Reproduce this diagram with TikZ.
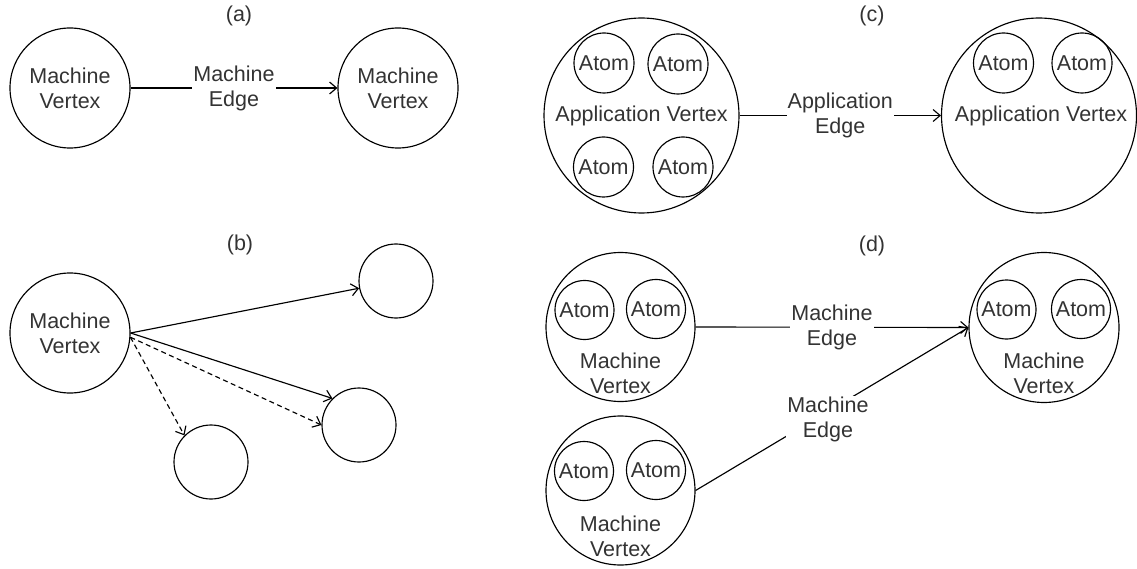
\documentclass[tikz,border=0pt]{standalone}
\usepackage{fontspec}
\setmainfont{Liberation Sans}
\usetikzlibrary{arrows.meta}
\definecolor{txt}{RGB}{51,51,51}
\begin{document}
\begin{tikzpicture}[x=1pt,y=-1pt,
  every node/.style={font=\fontsize{21.5}{25}\selectfont, text=txt, align=center},
  vtx/.style={draw=black, circle, line width=1.15pt, inner sep=0pt, minimum size=#1},
  lbl/.style={fill=white, inner sep=1pt},
  edge/.style={draw=black, line width=1.15pt, -{Straight Barb[length=7pt,width=12pt]}},
  dedge/.style={edge, dash pattern=on 5pt off 3.5pt}
]
\useasboundingbox (0,0) rectangle (1137,569);

% (a)
\node (la) at (239,16) {(a)};
\node[vtx=120] (a1) at (70,88) {Machine\\Vertex};
\node[vtx=120] (a2) at (398,88) {Machine\\Vertex};
\draw[edge] (a1) -- node[lbl] {Machine\\Edge} (a2);

% (b)
\node (lb) at (240,245) {(b)};
\node[vtx=120] (bmv) at (70,333) {Machine\\Vertex};
\node[vtx=74] (b1) at (396,281) {};
\node[vtx=74] (b2) at (359,425) {};
\node[vtx=74] (b3) at (211,462) {};
\draw[edge] (bmv.east) -- (b1);
\draw[edge] (bmv.east) -- (b2.135);
\draw[dedge] (bmv.-4) -- (b2.west);
\draw[dedge] (bmv.-4) -- (b3.135);

% (c)
\node (lc) at (872,16) {(c)};
\node[vtx=195] (c1) at (641.5,115.5) {};
\node[vtx=60] (c1a) at (604,63) {Atom};
\node[vtx=60] (c1b) at (678,64) {Atom};
\node[vtx=60] (c1c) at (603.5,167) {Atom};
\node[vtx=60] (c1d) at (683,167) {Atom};
\node (c1t) at (641.5,116) {Application Vertex};
\node[vtx=195] (c2) at (1039,115.5) {};
\node[vtx=60] (c2a) at (1003.5,63) {Atom};
\node[vtx=60] (c2b) at (1082,63) {Atom};
\node (c2t) at (1041,116) {Application Vertex};
\draw[edge] (c1) -- node[lbl] {Application\\Edge} (c2);

% (d)
\node (ld) at (872,246) {(d)};
\node[vtx=149] (d1) at (620.5,327) {};
\node[vtx=59] (d1a) at (584.5,310) {Atom};
\node[vtx=59] (d1b) at (656,309) {Atom};
\node (d1t) at (620.5,373) {Machine\\Vertex};
\node[vtx=149] (d2) at (620.5,490.5) {};
\node[vtx=59] (d2a) at (584,471) {Atom};
\node[vtx=59] (d2b) at (656,470) {Atom};
\node (d2t) at (620.5,536) {Machine\\Vertex};
\node[vtx=150] (d3) at (1044,327.5) {};
\node[vtx=59] (d3a) at (1006.5,309.5) {Atom};
\node[vtx=59] (d3b) at (1081,309) {Atom};
\node (d3t) at (1044,373) {Machine\\Vertex};
\draw[edge] (d1.east) -- node[lbl] {Machine\\Edge} (d3.west);
\draw[edge] (d2.east) -- node[lbl, pos=0.485, yshift=-8pt] {Machine\\Edge} (d3.west);
\end{tikzpicture}
\end{document}
